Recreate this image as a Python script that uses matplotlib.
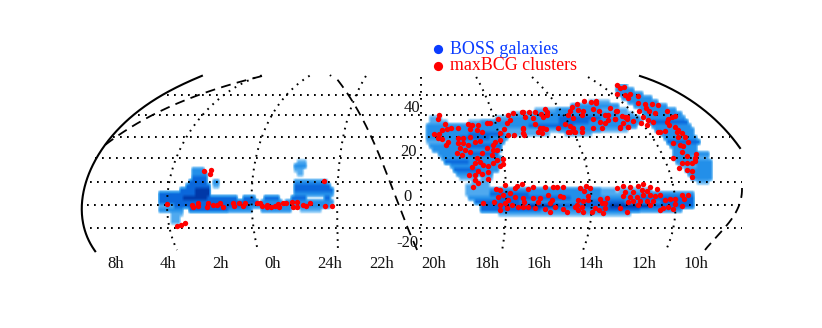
import numpy as np
import matplotlib
matplotlib.use('Agg')
import matplotlib.pyplot as plt
from matplotlib.colors import LinearSegmentedColormap

plt.rcParams['font.family'] = ['Liberation Serif', 'DejaVu Serif']

ra_labels = ['8h', '4h', '2h', '0h', '24h', '22h', '20h', '18h', '16h', '14h', '12h', '10h']
ra_label_x = [116, 168, 220, 273, 330, 382, 434, 487, 539, 591, 644, 696]
dec_labels = ['40', '20', '0', '-20']
dec_label_x = [420, 417, 412, 418]
dec_label_y = [108, 152, 197, 243]

dec_lines = [(95, 167, 640), (115, 138, 678), (137, 113, 730), (158, 95, 742),
             (182, 90, 742), (205, 87, 742), (228, 90, 742)]

ra_lines = [
    [(262, 76), (247, 80), (203, 115), (180, 150), (168, 187), (170, 230), (177, 250)],
    [(310, 76), (283, 97), (263, 137), (252, 187), (252, 220), (258, 250)],
    [(366, 76), (350, 110), (340, 160), (337, 200), (338, 250)],
    [(476, 77), (493, 113), (503, 163), (507, 207), (502, 250)],
    [(532, 77), (567, 120), (585, 163), (592, 207), (583, 250)],
    [(588, 77), (627, 107), (660, 150), (675, 197), (666, 250)],
]

edge_left = [(202, 76), (170, 90), (137, 113), (103, 148), (87, 177), (82, 203), (85, 230), (95, 251)]
edge_right = [(640, 76), (677, 92), (710, 115), (740, 148)]
gal_left = [(262, 76), (223, 87), (180, 102), (140, 122), (105, 145)]
gal_mid = [(337, 80), (353, 100), (377, 153), (395, 193), (417, 250)]
gal_right = [(742, 188), (733, 217), (720, 233), (705, 250)]

# galaxy density, row top -> (from x, to x, level)
blue_rows = {
    84: [(616, 624, 1)],
    88: [(616, 632, 2)],
    92: [(618, 640, 2)],
    96: [(622, 648, 2)],
    100: [(588, 606, 1), (628, 654, 2)],
    104: [(572, 616, 2), (634, 664, 2)],
    108: [(535, 552, 1), (556, 600, 2), (600, 626, 1), (640, 672, 2)],
    112: [(512, 535, 1), (535, 620, 2), (620, 630, 1), (644, 678, 2)],
    116: [(430, 438, 1), (495, 512, 1), (512, 560, 2), (560, 600, 3), (600, 636, 2), (646, 682, 2)],
    120: [(429, 444, 1), (468, 480, 1), (480, 560, 2), (560, 590, 3), (590, 640, 2), (650, 685, 3)],
    124: [(428, 448, 2), (452, 500, 2), (500, 530, 2), (530, 575, 3), (575, 635, 2), (652, 688, 2)],
    128: [(428, 500, 2), (500, 540, 1), (540, 560, 1), (560, 600, 2), (600, 626, 1), (656, 690, 2)],
    132: [(428, 470, 2), (470, 505, 3), (505, 548, 1), (565, 590, 1), (660, 692, 2)],
    136: [(428, 460, 2), (460, 490, 3), (490, 505, 2), (664, 695, 2)],
    140: [(428, 450, 1), (450, 503, 2), (668, 697, 3)],
    144: [(429, 470, 2), (470, 500, 3), (670, 694, 2)],
    148: [(432, 460, 2), (460, 498, 2), (672, 694, 2)],
    152: [(438, 470, 2), (470, 496, 3), (673, 705, 2)],
    156: [(442, 498, 2), (674, 690, 2), (690, 707, 1)],
    160: [(446, 470, 3), (470, 498, 2), (676, 708, 2)],
    164: [(450, 497, 2), (678, 696, 1), (696, 709, 2)],
    168: [(454, 480, 3), (480, 495, 2), (684, 709, 2)],
    172: [(458, 490, 2), (688, 708, 2)],
    176: [(460, 476, 1), (482, 490, 1), (692, 708, 2)],
    180: [(472, 488, 1), (696, 706, 1)],
    184: [(466, 486, 1)],
    188: [(466, 490, 1), (490, 560, 2), (560, 600, 2), (600, 612, 1), (620, 650, 1)],
    192: [(467, 490, 1), (490, 530, 3), (530, 600, 2), (600, 625, 1), (625, 690, 2)],
    196: [(470, 500, 2), (500, 570, 3), (570, 610, 2), (610, 640, 2), (640, 690, 3)],
    200: [(476, 520, 3), (520, 580, 2), (580, 625, 3), (625, 660, 2), (660, 690, 3)],
    204: [(480, 530, 3), (530, 560, 4), (560, 610, 3), (610, 650, 4), (650, 690, 3)],
    208: [(482, 540, 3), (540, 600, 2), (600, 640, 3), (640, 680, 2)],
    212: [(500, 560, 1), (560, 627, 1)],
}
blue_rows_left = {
    160: [(298, 303, 1)],
    164: [(296, 303, 2)],
    168: [(193, 202, 2), (295, 302, 1)],
    172: [(192, 204, 2), (298, 300, 1)],
    176: [(192, 205, 3)],
    180: [(190, 206, 3), (213, 216, 2), (296, 326, 2)],
    184: [(188, 207, 3), (213, 216, 1), (295, 328, 3)],
    188: [(182, 195, 3), (195, 208, 4), (295, 330, 3)],
    192: [(160, 195, 3), (195, 208, 4), (294, 330, 2)],
    196: [(160, 185, 3), (185, 207, 4), (209, 236, 3), (245, 252, 3), (265, 278, 3), (293, 304, 3), (326, 328, 3)],
    200: [(160, 200, 3), (200, 240, 3), (243, 256, 3), (262, 280, 2), (285, 330, 2)],
    204: [(160, 175, 1), (175, 250, 3), (250, 328, 2)],
    208: [(160, 172, 2), (172, 180, 2), (190, 225, 3), (228, 250, 2), (262, 290, 2), (300, 318, 1)],
    212: [(172, 180, 1)],
    216: [(171, 179, 1)],
    220: [(172, 178, 1)],
}

cluster_x = [167, 177, 181, 185, 204, 211, 210, 324, 192, 193, 198, 198, 207, 208, 213, 217, 220, 223, 233, 234,
             239, 243, 245, 257, 260, 262, 267, 267, 271, 275, 278, 279, 283, 286, 292, 293, 297, 297, 303, 306,
             310, 325, 332,
             439, 438, 445, 442, 447, 451, 458, 434, 439, 438, 442, 448, 446, 468, 472, 470, 478, 477, 482, 487,
             490, 498, 508, 513, 522, 510, 507, 504, 500, 508, 514, 523, 523, 458, 463, 470, 458, 463, 468, 475,
             480, 460, 465, 457, 462, 470, 482, 487, 495, 500, 493, 493, 497, 492, 477, 480, 475, 483, 503, 503,
             497, 500, 488, 493, 472, 478, 488, 469, 475, 482, 475, 488, 473, 478,
             523, 529, 535, 545, 547, 541, 525, 533, 543, 547, 535, 540, 543, 538, 546, 542, 523, 524, 572, 577,
             584, 591, 596, 596, 570, 578, 583, 593, 599, 610, 617, 568, 573, 582, 593, 600, 605, 608, 608, 615,
             622, 627, 620, 628, 605, 602, 593, 582, 565, 558, 570, 573, 575, 570, 582, 568,
             617, 624, 620, 617, 625, 630, 628, 638, 638, 645, 652, 658, 646, 639, 649, 655, 667, 643, 648, 653,
             641, 647, 668, 672, 675, 667, 669, 675, 678, 682, 658, 660, 665, 677, 685, 688, 678, 673, 680, 683,
             682, 673, 696, 695, 687, 682, 687, 692, 695, 679, 687, 692, 692, 616, 625, 627, 615, 623, 633, 620,
             628,
             496, 500, 498, 503, 505, 510, 515, 517, 522, 528, 533, 545, 553, 557, 563, 483, 494, 500, 505, 508,
             515, 523, 524, 533, 540, 552, 548, 560, 563, 512, 518, 523, 528, 535, 545, 550, 555, 563, 567, 575,
             507, 500, 538, 550,
             580, 586, 590, 584, 588, 578, 583, 588, 600, 607, 602, 605, 577, 582, 578, 583, 592, 595, 599, 605,
             603, 620, 627, 617, 623, 630, 638, 643, 650, 657, 625, 633, 642, 647, 623, 630, 637, 643, 650, 655,
             633, 640, 647, 653, 628, 660, 665, 670, 675, 682, 688, 684, 668, 663, 660, 673, 682, 675, 650, 638]
cluster_y = [204, 226, 225, 223, 171, 170, 174, 181, 205, 207, 203, 206, 207, 203, 205, 205, 203, 207, 203, 206,
             203, 206, 203, 203, 203, 206, 205, 207, 207, 206, 204, 207, 203, 203, 202, 207, 202, 207, 205, 206,
             203, 206, 206,
             115, 119, 124, 130, 129, 128, 128, 134, 134, 138, 139, 142, 145, 124, 125, 129, 125, 130, 132, 123,
             123, 119, 115, 113, 112, 120, 123, 129, 133, 135, 135, 129, 133, 138, 138, 137, 143, 143, 145, 142,
             141, 148, 150, 153, 155, 152, 153, 148, 142, 140, 145, 150, 150, 155, 158, 162, 163, 165, 159, 164,
             160, 166, 166, 163, 167, 171, 172, 175, 175, 174, 180, 179, 187, 183,
             112, 112, 112, 109, 112, 114, 117, 118, 117, 115, 124, 128, 128, 132, 129, 133, 128, 135, 107, 104,
             101, 102, 101, 103, 111, 110, 111, 109, 111, 108, 111, 115, 118, 115, 119, 122, 115, 115, 120, 119,
             116, 117, 128, 127, 123, 128, 128, 128, 124, 128, 126, 128, 132, 132, 132, 132,
             85, 87, 88, 94, 95, 94, 98, 96, 103, 104, 104, 105, 108, 111, 111, 113, 111, 117, 120, 122,
             123, 125, 119, 117, 116, 122, 125, 127, 130, 133, 132, 132, 131, 132, 137, 142, 137, 143, 145, 146,
             152, 158, 154, 158, 156, 163, 163, 163, 161, 168, 170, 171, 177, 111, 117, 119, 119, 123, 121, 127,
             127,
             189, 190, 197, 195, 185, 193, 188, 186, 184, 189, 187, 187, 187, 187, 187, 203, 202, 205, 203, 200,
             197, 198, 202, 198, 198, 200, 195, 196, 197, 205, 207, 207, 207, 208, 209, 212, 207, 209, 212, 207,
             208, 210, 202, 203,
             188, 186, 188, 191, 196, 200, 201, 200, 199, 198, 203, 203, 205, 207, 210, 212, 212, 208, 210, 208,
             213, 208, 212, 188, 186, 187, 186, 184, 187, 189, 192, 192, 190, 191, 196, 197, 197, 195, 195, 196,
             201, 201, 201, 201, 202, 195, 200, 199, 199, 195, 195, 199, 207, 208, 210, 209, 206, 204, 205, 205]


def smooth(pts, deg=3):
    pts = np.array(pts, dtype=float)
    t = np.r_[0, np.cumsum(np.hypot(*np.diff(pts, axis=0).T))]
    tt = np.linspace(0, t[-1], 200)
    deg = min(deg, len(pts) - 1)
    return np.polyval(np.polyfit(t, pts[:, 0], deg), tt), np.polyval(np.polyfit(t, pts[:, 1], deg), tt)


fig = plt.figure(figsize=(8.22, 3.28), dpi=100)
ax = fig.add_axes([0, 0, 1, 1])
ax.set_xlim(0, 822)
ax.set_ylim(328, 0)
ax.axis('off')

# density map
x0, x1, y0, y1 = 156, 714, 84, 228
grid = np.zeros(((y1 - y0) // 4, (x1 - x0) // 3))
for rows in (blue_rows, blue_rows_left):
    for top, spans in rows.items():
        for a, b, lev in spans:
            grid[(top - y0) // 4, (a - x0) // 3:(b - x0) // 3 + 1] = lev
cmap = LinearSegmentedColormap.from_list('sky', [(0, 'white'), (0.1, '#9ed3f8'), (0.25, '#50aaf0'),
                                                 (0.5, '#2490ea'), (0.75, '#0b68dc'), (1, '#0038a8')])
ax.imshow(grid, extent=(x0, x1, y1, y0), cmap=cmap, vmin=0, vmax=4, aspect='auto',
          interpolation='bilinear', zorder=1)

# graticule
dots = dict(color='k', lw=1.4, linestyle=(0, (0.9, 2.7)), dash_capstyle='butt', zorder=2)
for y, a, b in dec_lines:
    ax.plot([a, b], [y, y], **dots)
ax.plot([421, 421], [77, 252], **dots)
for pts in ra_lines:
    ax.plot(*smooth(pts), **dots)
ax.plot([330, 331], [75, 76], **dots)

# survey edge and galactic plane
for pts in (edge_left, edge_right):
    ax.plot(*smooth(pts, 4), color='k', lw=1.5, zorder=3)
for pts in (gal_left, gal_mid, gal_right):
    ax.plot(*smooth(pts), color='k', lw=1.3, linestyle=(0, (5.5, 3.5)), zorder=3)

ax.scatter(cluster_x, cluster_y, s=15, color='#ff0000', linewidths=0, zorder=4)

for name, x in zip(ra_labels, ra_label_x):
    ax.text(x, 264, name, fontsize=12, ha='center', va='center', color='#111111')
for name, x, y in zip(dec_labels, dec_label_x, dec_label_y):
    ax.text(x, y, name, fontsize=12, ha='right', va='center', color='#111111', zorder=5)

ax.scatter([438], [49], s=44, color='#0a3cff', linewidths=0, zorder=5)
ax.scatter([438], [66], s=44, color='#ff0000', linewidths=0, zorder=5)
ax.text(450, 49, 'BOSS galaxies', fontsize=12.9, color='#0a3cff', va='center')
ax.text(450, 66, 'maxBCG clusters', fontsize=12.9, color='#ff0000', va='center')

fig.savefig('out.png', dpi=100)
